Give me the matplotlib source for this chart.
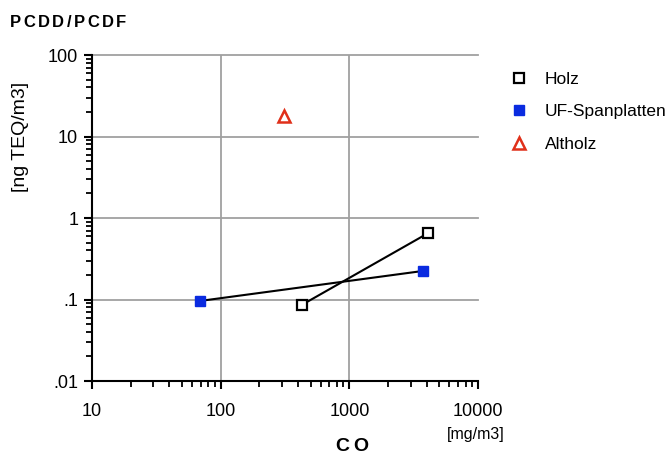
import matplotlib.pyplot as plt
from matplotlib.ticker import LogLocator, NullFormatter, FixedLocator, FixedFormatter
from matplotlib.transforms import offset_copy

plt.rcParams['font.family'] = ['Liberation Sans', 'DejaVu Sans']

# data
holz_co = [428, 4080]
holz_pcdd = [0.086, 0.65]
uf_co = [69, 3730]
uf_pcdd = [0.096, 0.224]
alt_co = [310]
alt_pcdd = [17.9]

x_ticks = [10, 100, 1000, 10000]
x_labels = ["10", "100", "1000", "10000"]
y_ticks = [0.01, 0.1, 1, 10, 100]
y_labels = [".01", ".1", "1", "10", "100"]


def spaced_text(fig, x, y, s, spacing, **kw):
    # draw letters one by one with extra tracking (pixels)
    renderer = fig.canvas.get_renderer()
    widths = []
    for ch in s:
        t = fig.text(0, 0, ch, **kw)
        widths.append(t.get_window_extent(renderer).width)
        t.remove()
    total = sum(widths) + spacing * (len(s) - 1)
    x0 = x * fig.bbox.width
    if kw.get("ha") == "center":
        x0 -= total / 2
    kw = dict(kw)
    kw["ha"] = "left"
    pos = 0.0
    for ch, w in zip(s, widths):
        tr = offset_copy(fig.transFigure, fig=fig, x=(x0 + pos - x * fig.bbox.width) / fig.dpi * 72,
                         y=0, units="points")
        fig.text(x, y, ch, transform=tr, **kw)
        pos += w + spacing


fig = plt.figure(figsize=(6.67, 4.55), dpi=100)
ax = fig.add_axes([0.138, 0.1626, 0.5786, 0.7165])

ax.set_xscale("log")
ax.set_yscale("log")
ax.set_xlim(10, 10000)
ax.set_ylim(0.01, 100)

grid_c = "#a0a0a0"
for v in x_ticks[1:-1]:
    ax.axvline(v, color=grid_c, lw=1.3, zorder=0)
for v in y_ticks[1:]:
    ax.axhline(v, color=grid_c, lw=1.3, zorder=0, clip_on=False)

ax.plot(holz_co, holz_pcdd, color="black", lw=1.5, zorder=2)
ax.plot(uf_co, uf_pcdd, color="black", lw=1.5, zorder=2)
ax.plot(holz_co, holz_pcdd, ls="none", marker="s", ms=6.5, mfc="white",
        mec="black", mew=1.6, zorder=3, label="Holz")
ax.plot(uf_co, uf_pcdd, ls="none", marker="s", ms=7, mfc="#0a2be0",
        mec="#0a2be0", mew=1, zorder=3, label="UF-Spanplatten")
ax.plot(alt_co, alt_pcdd, ls="none", marker="^", ms=8, mfc="none",
        mec="#e0301a", mew=1.8, zorder=3, label="Altholz")

for s in ["top", "right"]:
    ax.spines[s].set_visible(False)
for s in ["left", "bottom"]:
    ax.spines[s].set_linewidth(1.5)
    ax.spines[s].set_color("black")

ax.xaxis.set_major_locator(FixedLocator(x_ticks))
ax.xaxis.set_major_formatter(FixedFormatter(x_labels))
ax.yaxis.set_major_locator(FixedLocator(y_ticks))
ax.yaxis.set_major_formatter(FixedFormatter(y_labels))
ax.xaxis.set_minor_locator(LogLocator(base=10, subs=range(2, 10)))
ax.yaxis.set_minor_locator(LogLocator(base=10, subs=range(2, 10)))
ax.xaxis.set_minor_formatter(NullFormatter())
ax.yaxis.set_minor_formatter(NullFormatter())
ax.tick_params(which="major", direction="out", length=6, width=1.5, labelsize=13, pad=10)
ax.tick_params(which="minor", direction="out", length=4, width=1.3)
ax.tick_params(axis="y", which="major", pad=4)

spaced_text(fig, 0.015, 0.95, "PCDD/PCDF", 2.4, fontsize=12, fontweight="bold", va="center")
fig.text(0.03, 0.70, "[ng TEQ/m3]", fontsize=14, rotation=90, ha="center", va="center")
spaced_text(fig, 0.527, 0.018, "CO", 4, fontsize=14, fontweight="bold", ha="center", va="center")
fig.text(0.714, 0.045, "[mg/m3]", fontsize=11.5, ha="center", va="center")

ax.legend(loc="upper left", bbox_to_anchor=(1.065, 0.97), frameon=False,
          fontsize=12.5, handlelength=1.0, handletextpad=1.0, labelspacing=1.0,
          borderaxespad=0)

fig.savefig("out.png", dpi=100)
